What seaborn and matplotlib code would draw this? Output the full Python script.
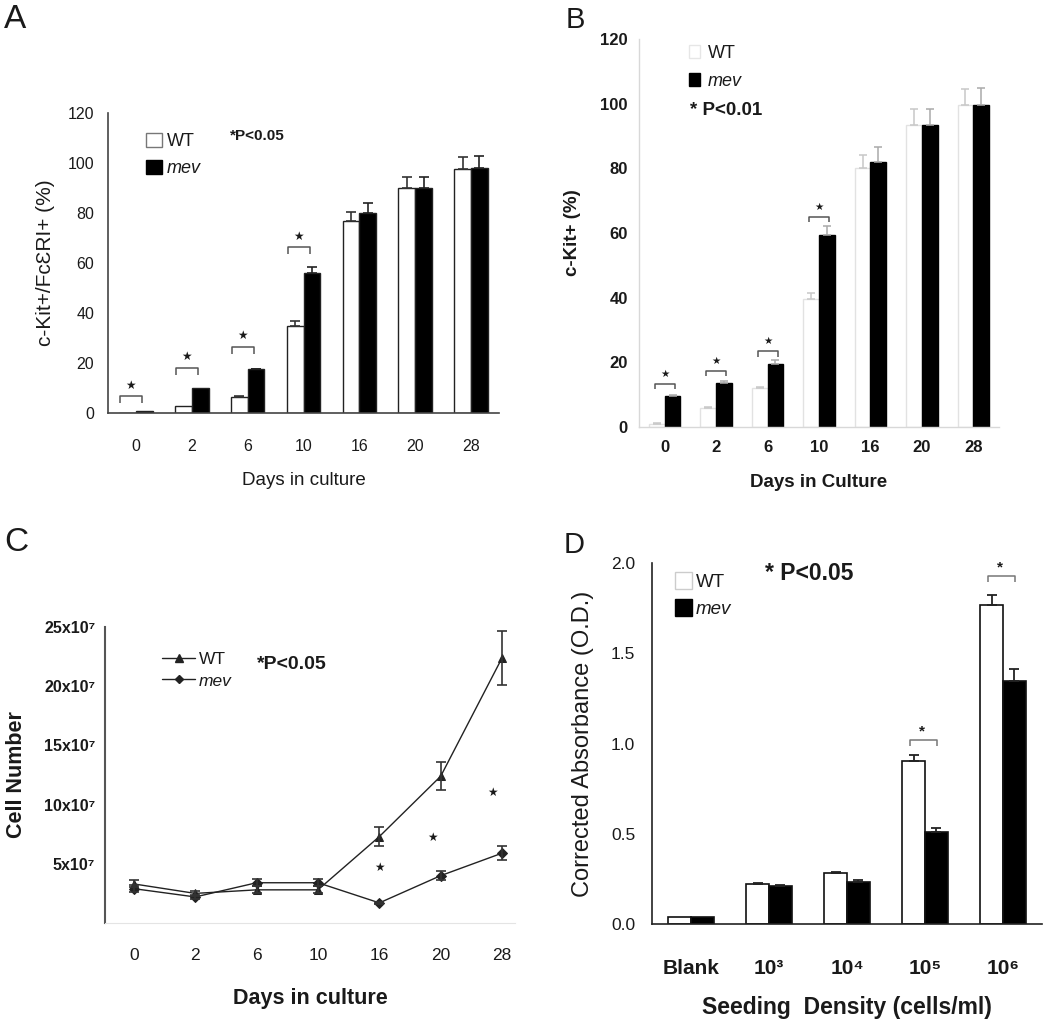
import numpy as np
import pandas as pd
import matplotlib
matplotlib.use("Agg")
import matplotlib.pyplot as plt
import seaborn as sns
from matplotlib.patches import Patch
from matplotlib.lines import Line2D

# ---------------- data ----------------
days = ["0", "2", "6", "10", "16", "20", "28"]
groups = ["WT", "mev"]

a_wt = [0.2, 3, 6.5, 35, 77, 90, 97.5]
a_mev = [1, 10, 17.5, 56, 80, 90, 98]
a_wt_err = [0, 0, 0.3, 2, 3.5, 4.5, 5]
a_mev_err = [0, 0, 0.3, 2.3, 4, 4.5, 5]
a_sig_days = ["0", "2", "6", "10"]
a_sig_y = [6.9, 18.2, 26.6, 66.3]

b_wt = [1, 6, 12, 39.5, 80, 93.5, 99.5]
b_mev = [9.6, 13.6, 19.6, 59.3, 82, 93.3, 99.5]
b_wt_err = [0.2, 0.3, 0.3, 2, 4, 5, 5]
b_mev_err = [0.3, 0.5, 1, 3, 4.5, 5, 5.5]
b_sig_days = ["0", "2", "6", "10"]
b_sig_y = [13.4, 17.4, 23.5, 65]

c_wt = [3.3, 2.5, 2.8, 2.8, 7.3, 12.4, 22.4]
c_mev = [2.9, 2.2, 3.4, 3.4, 1.7, 4.0, 5.9]
c_wt_err = [0.3, 0.2, 0.3, 0.3, 0.8, 1.2, 2.3]
c_mev_err = [0.3, 0.2, 0.3, 0.3, 0.1, 0.4, 0.6]
c_star_x = [4, 4.87, 5.85]
c_star_y = [4.7, 7.2, 11.0]
c_yticks = [5, 10, 15, 20, 25]
c_yticklabels = ["5x10\u2077", "10x10\u2077", "15x10\u2077", "20x10\u2077", "25x10\u2077"]

d_cats = ["Blank", "10\u00b3", "10\u2074", "10\u2075", "10\u2076"]
d_wt = [0.037, 0.22, 0.28, 0.905, 1.765]
d_mev = [0.037, 0.21, 0.23, 0.508, 1.345]
d_wt_err = [0, 0.006, 0.01, 0.03, 0.055]
d_mev_err = [0, 0.006, 0.012, 0.025, 0.065]
d_sig_cats = ["10\u2075", "10\u2076"]
d_sig_y = [1.02, 1.93]

# ---------------- style ----------------
sns.set_style("white")
plt.rcParams["font.family"] = ["Liberation Sans", "DejaVu Sans"]
TXT = "#1a1a1a"
plt.rcParams["text.color"] = TXT
plt.rcParams["axes.labelcolor"] = TXT
plt.rcParams["xtick.color"] = TXT
plt.rcParams["ytick.color"] = TXT
STAR = "\u2605"

fig = plt.figure(figsize=(10.5, 10.27), dpi=100)
W, H = 1050.0, 1027.0


def add_axes(left, top, right, bottom):
    return fig.add_axes([left / W, 1 - bottom / H, (right - left) / W, (bottom - top) / H])


def long_df(cats, wt, mev):
    return pd.DataFrame({"cat": list(cats) * 2,
                         "value": list(wt) + list(mev),
                         "genotype": ["WT"] * len(cats) + ["mev"] * len(cats)})


def bar_centers(ax):
    out = []
    for cont in ax.containers[:2]:
        out.append(([p.get_x() + p.get_width() / 2 for p in cont],
                    [p.get_height() for p in cont]))
    return out


def bracket(ax, xc, y, x0, x1, drop, sdy, color, lw, sfs, sx=None, glyph="*", bold=True):
    ax.plot([xc + x0, xc + x0, xc + x1, xc + x1], [y - drop, y, y, y - drop],
            color=color, lw=lw, solid_capstyle="butt", clip_on=False)
    sx = (x0 + x1) / 2 if sx is None else sx
    ax.text(xc + sx, y + sdy, glyph, ha="center", va="center", fontsize=sfs,
            fontweight="bold" if bold else "normal", color=TXT,
            family=["DejaVu Sans"] if glyph == STAR else None)


# ================= Panel A =================
axA = add_axes(108, 113, 499, 413)
sns.barplot(data=long_df(days, a_wt, a_mev), x="cat", y="value", hue="genotype",
            order=days, hue_order=groups, palette={"WT": "white", "mev": "black"},
            saturation=1, width=0.6, errorbar=None, edgecolor="#222", linewidth=1.0,
            legend=False, ax=axA)
(wx, wh), (mx, mh) = bar_centers(axA)
for xs, hs, er, col in [(wx, wh, a_wt_err, "#333"), (mx, mh, a_mev_err, "#222")]:
    xs2 = [x for x, e in zip(xs, er) if e > 0]
    hs2 = [h for h, e in zip(hs, er) if e > 0]
    es2 = [e for e in er if e > 0]
    axA.errorbar(xs2, hs2, yerr=[np.zeros(len(es2)), es2], fmt="none", ecolor=col,
                 elinewidth=1.2, capsize=3.6, capthick=1.2)
for d, y in zip(a_sig_days, a_sig_y):
    bracket(axA, days.index(d), y, -0.28, 0.11, 2.8, 4.3, "#555", 1.1, 8.5, sx=-0.09,
            glyph=STAR, bold=False)
axA.set_xlim(-0.5, 6.5)
axA.set_ylim(0, 120)
axA.set_yticks(range(0, 121, 20))
axA.set_xticks(np.arange(-0.5, 7, 1), minor=True)
axA.tick_params(axis="x", which="major", length=0, pad=19, labelsize=11.5)
axA.tick_params(axis="x", which="minor", direction="inout", length=10, width=1.1, color="#444")
axA.tick_params(axis="y", direction="out", length=6, width=1.1, color="#444", labelsize=11.5, pad=4)
sns.despine(ax=axA)
for s in ["left", "bottom"]:
    axA.spines[s].set_color("#444")
    axA.spines[s].set_linewidth(1.2)
axA.set_xlabel("Days in culture", fontsize=13.5, labelpad=13)
axA.set_ylabel("c-Kit+/Fc\u0190RI+ (%)", fontsize=15, labelpad=9)
legA = axA.legend(handles=[Patch(facecolor="white", edgecolor="#777", lw=1),
                           Patch(facecolor="black", edgecolor="black")],
                  labels=["WT", "mev"], frameon=False, loc="upper left",
                  bbox_to_anchor=(0.098, 0.935), fontsize=13, handlelength=0.85,
                  handleheight=0.85, handletextpad=0.3, labelspacing=0.55, borderpad=0,
                  borderaxespad=0)
legA.get_texts()[1].set_style("italic")
axA.text(0.312, 0.923, "*P<0.05", transform=axA.transAxes, fontsize=11,
         fontweight="bold", va="center", ha="left")

# ================= Panel B =================
axB = add_axes(639, 39, 999, 427)
sns.barplot(data=long_df(days, b_wt, b_mev), x="cat", y="value", hue="genotype",
            order=days, hue_order=groups, palette={"WT": "white", "mev": "black"},
            saturation=1, width=0.61, errorbar=None, linewidth=1.0, legend=False, ax=axB)
for p in axB.containers[0]:
    p.set_edgecolor("#e2e2e2")
for p in axB.containers[1]:
    p.set_edgecolor("black")
(wx, wh), (mx, mh) = bar_centers(axB)
axB.errorbar(wx, wh, yerr=[np.zeros(7), b_wt_err], fmt="none", ecolor="#c8c8c8",
             elinewidth=1.1, capsize=3.2, capthick=1.1)
axB.errorbar(mx, mh, yerr=[np.zeros(7), b_mev_err], fmt="none", ecolor="#aaaaaa",
             elinewidth=1.1, capsize=3.2, capthick=1.1)
for d, y in zip(b_sig_days, b_sig_y):
    bracket(axB, days.index(d), y, -0.19, 0.2, 1.7, 3.0, "#555", 1.1, 7.5, sx=0.0,
            glyph=STAR, bold=False)
axB.set_xlim(-0.5, 6.5)
axB.set_ylim(0, 120)
axB.set_yticks(range(0, 121, 20))
axB.tick_params(axis="both", length=0)
axB.tick_params(axis="x", pad=9)
axB.tick_params(axis="y", pad=8)
for lab in axB.get_xticklabels() + axB.get_yticklabels():
    lab.set_fontweight("bold")
    lab.set_fontsize(12)
sns.despine(ax=axB)
for s in ["left", "bottom"]:
    axB.spines[s].set_color("#d8d8d8")
    axB.spines[s].set_linewidth(1.0)
axB.set_xlabel("Days in Culture", fontsize=13.5, fontweight="bold", labelpad=14)
axB.set_ylabel("c-Kit+ (%)", fontsize=13.5, fontweight="bold", labelpad=14)
legB = axB.legend(handles=[Patch(facecolor="white", edgecolor="#e6e6e6", lw=1),
                           Patch(facecolor="black", edgecolor="black")],
                  labels=["WT", "mev"], frameon=False, loc="upper left",
                  bbox_to_anchor=(0.14, 0.985), fontsize=13, handlelength=0.6,
                  handleheight=0.75, handletextpad=0.4, labelspacing=0.6, borderpad=0,
                  borderaxespad=0)
legB.get_texts()[1].set_style("italic")
axB.text(0.142, 0.817, "* P<0.01", transform=axB.transAxes, fontsize=13.5,
         fontweight="bold", va="center", ha="left")

# ================= Panel C =================
axC = add_axes(105, 627, 515, 923)
sns.pointplot(data=long_df(days, c_wt, c_mev), x="cat", y="value", hue="genotype",
              order=days, hue_order=groups, palette={"WT": "#222", "mev": "#222"},
              markers=["^", "D"], linestyles=["-", "-"], errorbar=None, dodge=False,
              legend=False, markersize=5.5, linewidth=1.0, ax=axC)
axC.errorbar(range(len(days)), c_wt, yerr=c_wt_err, fmt="none", ecolor="#333",
             elinewidth=1.2, capsize=3.5, capthick=1.2)
axC.errorbar(range(len(days)), c_mev, yerr=c_mev_err, fmt="none", ecolor="#333",
             elinewidth=1.2, capsize=3.5, capthick=1.2)
for x, y in zip(c_star_x, c_star_y):
    axC.text(x, y, STAR, ha="center", va="center", fontsize=8.5, color=TXT,
             family=["DejaVu Sans"])
axC.set_xlim(-0.47, 6.21)
axC.set_ylim(0, 25)
axC.set_yticks(c_yticks)
axC.set_yticklabels(c_yticklabels)
axC.tick_params(axis="y", direction="in", length=4, width=1.1, color="#555", pad=7)
axC.tick_params(axis="x", length=0, pad=18, labelsize=12.5)
for lab in axC.get_yticklabels():
    lab.set_fontweight("bold")
    lab.set_fontsize(11.5)
sns.despine(ax=axC)
axC.spines["left"].set_color("#555")
axC.spines["left"].set_linewidth(1.5)
axC.spines["bottom"].set_color("#e4e4e4")
axC.set_xlabel("Days in culture", fontsize=15.5, fontweight="bold", labelpad=18)
axC.set_ylabel("Cell Number", fontsize=15.5, fontweight="bold", labelpad=12)
legC = axC.legend(handles=[Line2D([0], [0], color="#222", marker="^", lw=1, markersize=6),
                           Line2D([0], [0], color="#222", marker="D", lw=1, markersize=4.5)],
                  labels=["WT", "mev"], frameon=False, loc="upper left",
                  bbox_to_anchor=(0.14, 0.915), fontsize=12.5, handlelength=1.9,
                  handletextpad=0.2, labelspacing=0.35, borderpad=0, borderaxespad=0)
legC.get_texts()[1].set_style("italic")
axC.text(0.371, 0.872, "*P<0.05", transform=axC.transAxes, fontsize=14,
         fontweight="bold", va="center", ha="left")

# ================= Panel D =================
axD = add_axes(652, 563, 1042, 924)
sns.barplot(data=long_df(d_cats, d_wt, d_mev), x="cat", y="value", hue="genotype",
            order=d_cats, hue_order=groups, palette={"WT": "white", "mev": "black"},
            saturation=1, width=0.58, errorbar=None, edgecolor="#111", linewidth=1.2,
            legend=False, ax=axD)
(wx, wh), (mx, mh) = bar_centers(axD)
for xs, hs, er in [(wx, wh, d_wt_err), (mx, mh, d_mev_err)]:
    xs2 = [x for x, e in zip(xs, er) if e > 0]
    hs2 = [h for h, e in zip(hs, er) if e > 0]
    es2 = [e for e in er if e > 0]
    axD.errorbar(xs2, hs2, yerr=[np.zeros(len(es2)), es2], fmt="none", ecolor="#222",
                 elinewidth=1.3, capsize=3.8, capthick=1.3)
for c, y in zip(d_sig_cats, d_sig_y):
    bracket(axD, d_cats.index(c), y, -0.19, 0.155, 0.035, 0.045, "#777", 1.1, 11, sx=-0.04)
axD.set_xlim(-0.5, 4.5)
axD.set_ylim(0, 2.0)
axD.set_yticks([0, 0.5, 1.0, 1.5, 2.0])
axD.set_yticklabels(["0.0", "0.5", "1.0", "1.5", "2.0"])
axD.set_xticks(np.arange(-0.5, 5, 1), minor=True)
axD.tick_params(axis="x", which="major", length=0, pad=25)
axD.tick_params(axis="x", which="minor", direction="out", length=4, width=1.0, color="#666")
axD.tick_params(axis="y", direction="out", length=6, width=1.2, color="#222", pad=6,
                labelsize=12.5)
for lab in axD.get_xticklabels():
    lab.set_fontweight("bold")
    lab.set_fontsize(15)
sns.despine(ax=axD)
for s in ["left", "bottom"]:
    axD.spines[s].set_color("#222")
    axD.spines[s].set_linewidth(1.2)
axD.set_xlabel("Seeding  Density (cells/ml)", fontsize=16.5, fontweight="bold", labelpad=13)
axD.set_ylabel("Corrected Absorbance (O.D.)", fontsize=17, labelpad=12)
legD = axD.legend(handles=[Patch(facecolor="white", edgecolor="#cccccc", lw=1),
                           Patch(facecolor="black", edgecolor="black")],
                  labels=["WT", "mev"], frameon=False, loc="upper left",
                  bbox_to_anchor=(0.058, 0.975), fontsize=13.5, handlelength=0.95,
                  handleheight=1.0, handletextpad=0.2, labelspacing=0.45, borderpad=0,
                  borderaxespad=0)
legD.get_texts()[1].set_style("italic")
axD.text(0.29, 0.972, "* P<0.05", transform=axD.transAxes, fontsize=16.5,
         fontweight="bold", va="center", ha="left")

# ---------------- panel letters ----------------
fig.text(4 / W, 1 - 4 / H, "A", fontsize=24, va="top", ha="left")
fig.text(566 / W, 1 - 6 / H, "B", fontsize=21, va="top", ha="left")
fig.text(4 / W, 1 - 527 / H, "C", fontsize=24, va="top", ha="left")
fig.text(564 / W, 1 - 531 / H, "D", fontsize=21, va="top", ha="left")

fig.savefig("out.png", dpi=100)
